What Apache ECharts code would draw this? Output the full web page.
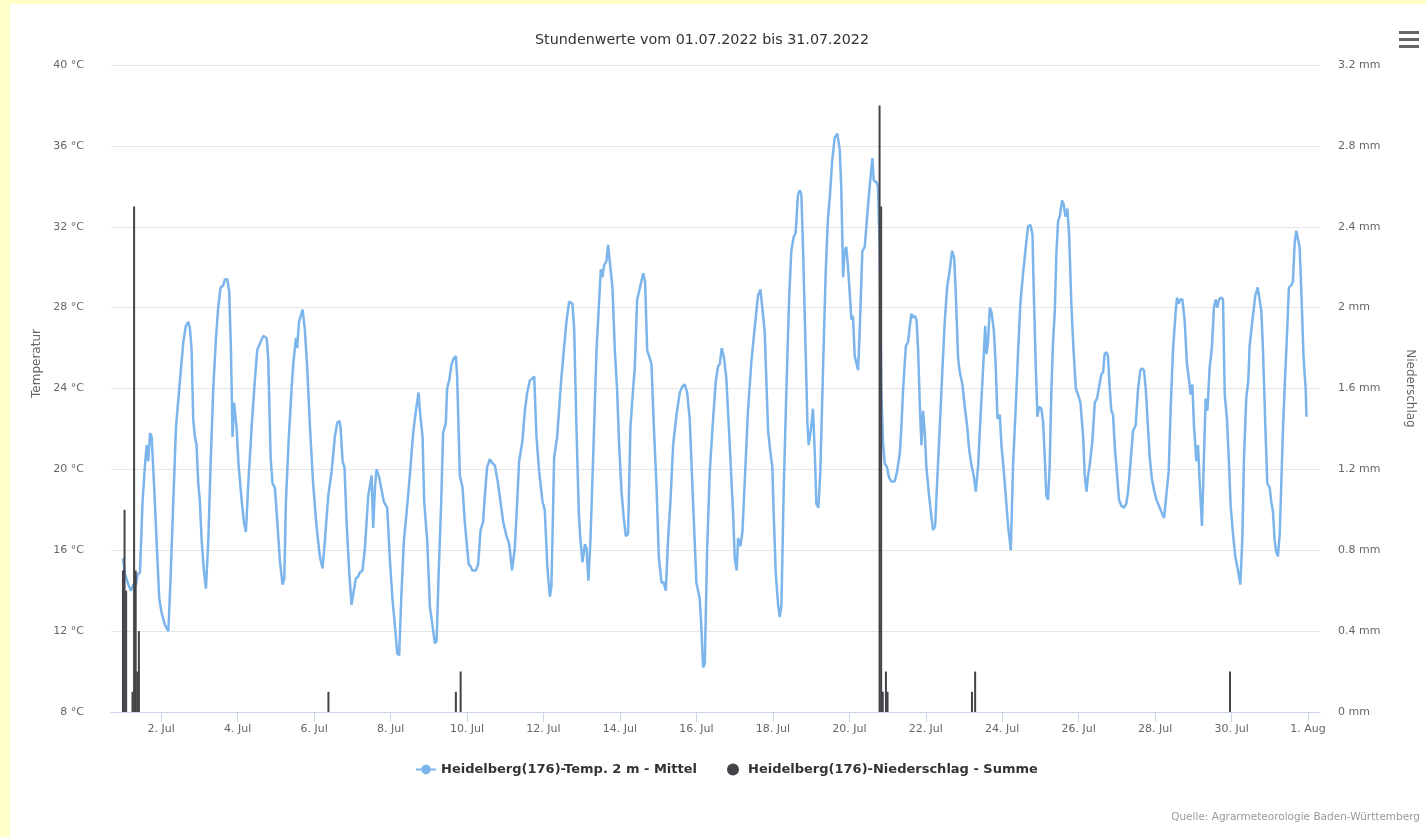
<!DOCTYPE html>
<html>
<head>
<meta charset="utf-8">
<title>Heidelberg Juli 2022</title>
<script src="https://cdn.jsdelivr.net/npm/echarts@6/dist/echarts.min.js"></script>
<style>
html, body { margin: 0; padding: 0; background: #fff; }
#chart { width: 1426px; height: 837px; }
</style>
</head>
<body>
<div id="chart"></div>
<script>
// x = Stunden seit 01.07.2022 00:00
var temperature = [
  [0,15.6],[1.3,14.8],[3.4,14.3],[5.0,14.0],[6.5,14.3],[8.2,14.3],[9.2,14.8],[10.7,14.9],[12.3,18.4],[13.8,20.2],
  [14.9,21.2],[15.9,20.4],[17.0,21.8],[18.0,21.6],[19.5,19.3],[21.1,16.5],[22.8,13.6],[24.3,12.9],[26.4,12.3],[28.5,12.0],
  [29.9,14.6],[31.6,18.4],[33.3,22.1],[35.8,24.4],[37.9,26.3],[39.5,27.1],[41.0,27.3],[42.0,27.0],[43.1,25.9],[44.1,22.5],
  [45.2,21.6],[46.2,21.2],[47.3,19.3],[48.3,18.4],[49.4,16.5],[50.8,15.0],[52.1,14.1],[53.6,16.5],[55.0,20.2],[56.7,24.0],
  [58.4,26.5],[59.8,28.0],[61.3,29.0],[63.0,29.1],[64.0,29.4],[65.5,29.4],[66.7,28.8],[67.8,25.9],[68.8,21.6],[69.7,23.3],
  [70.7,23.3],[71.3,22.1],[72.6,20.2],[74.5,18.5],[75.9,17.4],[77.2,16.9],[78.7,19.3],[80.8,22.1],[82.8,24.4],[84.3,25.9],
  [86.4,26.3],[88.1,26.6],[90.2,26.5],[91.2,25.5],[92.7,20.6],[93.9,19.3],[95.4,19.1],[96.9,17.4],[98.5,15.5],[100.2,14.3],
  [101.3,14.6],[102.3,18.4],[104.0,21.4],[105.9,24.0],[106.9,25.2],[108.6,26.5],[109.4,26.0],[110.5,27.3],[112.8,27.9],[114.2,26.9],
  [115.7,25.0],[117.4,22.1],[119.4,19.3],[121.5,17.2],[123.6,15.7],[125.3,15.1],[126.8,16.5],[128.9,18.7],[131.0,19.9],[133.0,21.6],
  [134.5,22.3],[135.8,22.4],[136.6,22.1],[137.9,20.4],[139.1,20.1],[140.4,17.4],[142.0,15.0],[143.5,13.3],[144.5,13.8],[146.2,14.6],
  [147.7,14.7],[148.7,14.9],[150.4,15.0],[151.9,16.1],[154.0,18.7],[156.1,19.7],[157.1,17.1],[158.2,19.1],[159.2,20.0],[160.9,19.6],
  [162.3,19.0],[163.8,18.4],[165.9,18.1],[167.6,15.5],[169.2,13.6],[170.7,12.3],[172.2,10.9],[173.4,10.8],[174.7,13.6],[176.4,16.5],
  [178.0,17.8],[180.1,19.7],[182.2,21.8],[183.9,22.9],[185.6,23.8],[186.4,22.9],[188.1,21.6],[189.1,18.4],[191.0,16.5],[192.7,13.2],
  [194.3,12.3],[195.8,11.4],[196.9,11.5],[198.1,14.6],[199.8,18.4],[201.0,21.8],[202.7,22.3],[203.5,24.0],[204.8,24.4],[206.3,25.2],
  [207.7,25.5],[209.0,25.6],[209.8,24.6],[211.5,19.7],[213.2,19.1],[214.6,17.4],[216.1,16.1],[217.1,15.3],[218.2,15.2],[219.4,15.0],
  [221.5,15.0],[223.0,15.3],[224.5,17.0],[226.1,17.4],[227.2,18.7],[228.6,20.1],[230.3,20.5],[232.0,20.3],[233.5,20.2],[235.5,19.3],
  [238.7,17.4],[240.8,16.7],[242.5,16.3],[244.3,15.0],[246.0,16.1],[247.5,18.4],[248.7,20.4],[250.8,21.4],[252.3,22.9],[253.8,23.8],
  [255.4,24.4],[257.1,24.5],[258.2,24.6],[259.6,21.6],[261.3,19.9],[263.4,18.4],[264.8,18.0],[266.5,15.1],[268.0,13.7],[269.0,14.2],
  [270.7,20.6],[272.6,21.6],[274.3,23.5],[275.3,24.6],[276.8,25.9],[278.4,27.3],[280.1,28.3],[282.2,28.2],[283.3,26.9],[284.7,22.1],
  [286.2,17.8],[287.2,16.5],[288.5,15.4],[290.0,16.3],[291.0,16.1],[292.2,14.5],[293.5,16.5],[295.2,20.6],[297.3,25.9],[299.0,28.4],
  [300.0,29.9],[301.0,29.5],[302.1,30.1],[303.5,30.3],[304.6,31.1],[305.6,30.3],[307.3,29.0],[308.8,25.9],[310.2,24.0],[311.5,21.2],
  [313.0,18.9],[314.4,17.6],[315.7,16.7],[317.1,16.8],[318.6,22.1],[320.3,24.0],[321.3,25.0],[322.8,28.4],[324.0,28.4],[325.5,29.3],
  [326.6,29.7],[327.8,29.3],[329.1,25.9],[330.3,25.6],[331.8,25.2],[333.3,22.1],[334.9,19.3],[336.4,15.7],[338.1,14.4],[339.5,14.4],
  [340.8,14.0],[342.2,16.5],[343.7,18.4],[345.4,21.2],[347.5,22.7],[349.6,23.8],[351.2,24.1],[352.7,24.2],[354.2,23.8],[355.8,22.5],
  [357.9,18.4],[360.0,14.4],[362.1,13.6],[363.2,12.1],[364.2,10.2],[365.3,10.4],[366.7,15.9],[368.4,19.9],[370.5,22.5],[372.1,24.3],
  [373.6,25.1],[374.7,25.2],[375.9,26.0],[377.2,25.6],[378.8,24.5],[380.5,21.9],[382.0,19.5],[383.0,17.9],[384.1,15.6],[385.3,15.0],
  [386.2,16.6],[387.6,16.2],[388.9,16.9],[390.3,19.3],[392.4,22.9],[394.5,25.3],[396.6,27.0],[398.7,28.6],[400.2,28.9],[401.4,28.9],
  [402.9,26.8],[405.0,21.9],[406.4,20.9],[407.7,20.1],[408.5,17.9],[409.8,14.9],[411.3,13.3],[412.3,12.7],[413.4,13.3],[414.8,18.9],
  [416.5,23.9],[418.2,28.4],[419.6,30.8],[421.1,31.5],[422.3,31.7],[423.8,33.6],[424.9,33.8],[425.9,33.6],[427.0,30.8],[428.6,25.8],
  [429.7,22.3],[430.5,21.2],[431.8,21.9],[433.2,23.0],[434.3,20.9],[435.3,18.3],[436.6,18.1],[437.8,19.9],[439.5,24.9],[441.2,29.8],
  [442.6,32.4],[443.7,33.4],[445.2,35.2],[446.8,36.4],[448.5,36.6],[450.0,35.8],[451.0,33.8],[452.1,29.5],[453.1,30.8],[454.1,31.0],
  [455.2,30.0],[456.2,28.8],[457.3,27.4],[458.3,27.6],[459.4,25.6],[460.4,25.6],[461.5,24.9],[462.5,26.8],[464.2,30.8],[465.7,31.0],
  [467.1,32.4],[468.8,34.0],[470.5,35.4],[471.3,34.3],[473.0,34.2],[474.0,34.0],[475.1,30.8],[476.1,23.9],[477.2,21.3],[478.2,20.3],
  [479.7,20.1],[480.9,19.6],[482.4,19.4],[484.5,19.4],[486.0,19.9],[487.7,20.8],[488.7,22.1],[489.8,24.0],[491.5,26.1],[492.9,26.3],
  [494.0,27.1],[495.0,27.7],[496.1,27.5],[497.1,27.6],[498.2,27.4],[499.2,25.9],[500.3,23.1],[501.3,21.2],[502.3,22.9],[503.4,21.8],
  [504.4,20.1],[506.1,18.7],[507.6,17.6],[508.6,17.0],[509.9,17.2],[511.1,19.3],[512.8,22.1],[514.5,25.0],[515.9,27.3],[517.4,29.0],
  [519.1,29.9],[520.5,30.8],[521.8,30.5],[522.8,28.8],[524.3,25.5],[525.4,24.8],[527.0,24.2],[528.5,23.1],[530.0,22.1],[531.2,21.0],
  [532.7,20.2],[534.1,19.7],[535.4,18.9],[536.9,20.2],[538.3,22.5],[540.0,25.0],[541.3,27.1],[542.1,25.7],[543.1,26.3],[544.2,28.0],
  [545.2,27.8],[546.7,26.9],[547.9,25.2],[549.0,22.5],[550.5,22.7],[551.5,21.2],[553.0,19.9],[554.2,18.7],[555.7,17.2],[557.4,16.0],
  [558.8,20.2],[560.5,23.1],[562.0,25.9],[563.4,28.2],[565.1,29.7],[566.8,31.0],[568.2,32.0],[569.7,32.1],[571.0,31.6],[571.8,28.8],
  [573.1,25.0],[574.1,22.6],[575.1,23.1],[576.6,23.0],[577.7,22.3],[578.7,20.6],[579.7,18.7],[580.8,18.5],[581.8,20.2],[582.9,24.0],
  [583.9,26.3],[585.0,27.8],[586.0,30.7],[587.1,32.3],[588.1,32.5],[589.6,33.3],[590.6,33.1],[591.7,32.5],[592.9,32.9],[594.0,31.6],
  [595.4,28.2],[596.5,26.3],[598.2,24.0],[599.6,23.7],[601.1,23.3],[602.8,21.6],[603.8,19.7],[604.9,18.9],[605.9,19.7],[606.9,20.2],
  [608.6,21.4],[610.1,23.3],[611.5,23.5],[614.2,24.7],[615.3,24.8],[616.3,25.7],[617.4,25.8],[618.4,25.6],[619.5,24.0],[620.5,22.9],
  [621.6,22.7],[622.6,21.2],[624.1,19.7],[625.3,18.5],[626.8,18.2],[628.3,18.1],[629.9,18.3],[631.0,18.9],[632.4,20.2],[634.1,21.9],
  [635.8,22.2],[637.3,24.0],[638.7,24.9],[639.8,25.0],[641.0,24.9],[642.1,24.0],[643.5,22.1],[644.6,20.6],[646.0,19.5],[647.3,19.0],
  [648.8,18.5],[650.4,18.2],[651.9,17.9],[653.6,17.6],[655.0,18.7],[656.5,19.9],[657.8,23.1],[659.2,25.9],[660.9,27.8],[661.7,28.5],
  [662.8,28.2],[663.8,28.4],[665.1,28.4],[666.5,27.4],[668.0,25.2],[669.3,24.4],[670.3,23.7],[671.4,24.2],[672.4,22.1],[673.9,20.4],
  [674.9,21.2],[676.0,19.3],[677.4,17.2],[678.5,20.2],[679.7,23.5],[680.8,22.9],[682.2,25.0],[683.7,26.1],[684.9,28.0],[686.0,28.4],
  [687.0,28.0],[688.1,28.4],[689.6,28.5],[690.6,28.4],[691.7,23.7],[693.1,22.5],[694.4,20.2],[695.4,18.2],[696.9,16.8],[698.3,15.7],
  [700.0,15.0],[701.5,14.3],[702.7,16.5],[703.8,20.6],[705.2,23.5],[706.5,24.4],[707.3,26.1],[708.4,26.1],[709.4,27.6],[710.9,28.6],
  [712.4,29.0],[713.6,28.4],[714.7,27.8],[715.7,25.9],[717.2,22.1],[718.4,19.3],[719.9,19.1],[720.9,18.4],[722.0,17.9],[723.0,16.5],
  [724.1,15.9],[725.1,15.7],[726.2,16.8],[727.2,19.3],[728.3,22.1],[729.5,24.4],[730.8,26.7],[732.0,29.0],[733.5,29.1],[734.5,29.3],
  [735.6,31.2],[736.6,31.8],[737.7,31.8],[738.7,31.0],[739.8,28.8],[741.2,25.5],[742.5,24.0],[743,22.6]
];

// Niederschlag (mm) je Stunde, nur Stunden mit Regen
var rainHours  = [0, 1, 2, 6, 7, 8, 9, 10, 129, 209, 212, 475, 476, 477, 479, 480, 533, 535, 695];
var rainValues = [0.7, 1.0, 0.6, 0.1, 2.5, 0.7, 0.2, 0.4, 0.1, 0.1, 0.2, 3.0, 2.5, 0.1, 0.2, 0.1, 0.1, 0.2, 0.2];

var tickHours  = [24, 72, 120, 168, 216, 264, 312, 360, 408, 456, 504, 552, 600, 648, 696, 744];
var tickLabels = ['2. Jul', '4. Jul', '6. Jul', '8. Jul', '10. Jul', '12. Jul', '14. Jul', '16. Jul',
                  '18. Jul', '20. Jul', '22. Jul', '24. Jul', '26. Jul', '28. Jul', '30. Jul', '1. Aug'];

var tempName = 'Heidelberg(176)-Temp. 2 m - Mittel';
var rainName = 'Heidelberg(176)-Niederschlag - Summe';

var rainData = rainHours.map(function (h, i) { return [h, rainValues[i]]; });

var font = '"DejaVu Sans", Verdana, sans-serif';
var chart = echarts.init(document.getElementById('chart'));

chart.setOption({
  backgroundColor: '#ffffff',
  animation: false,
  textStyle: { fontFamily: font },
  title: {
    text: 'Stundenwerte vom 01.07.2022 bis 31.07.2022',
    left: 530,
    top: 28,
    textStyle: { fontSize: 14.3, fontWeight: 'normal', color: '#333333', fontFamily: font }
  },
  grid: { left: 111, right: 106, top: 65, bottom: 125 },
  legend: {
    bottom: 56,
    left: 410,
    itemGap: 30,
    itemWidth: 20,
    itemHeight: 12,
    textStyle: { fontSize: 13, fontWeight: 'bold', color: '#333333', fontFamily: font },
    data: [
      { name: tempName },
      { name: rainName, icon: 'circle' }
    ]
  },
  xAxis: {
    type: 'value',
    min: -7.5,
    max: 751.5,
    axisLine: { lineStyle: { color: '#ccd6eb' } },
    axisTick: { customValues: tickHours, length: 10, lineStyle: { color: '#ccd6eb' } },
    axisLabel: {
      customValues: tickHours,
      margin: 12,
      fontSize: 11,
      color: '#666666',
      fontFamily: font,
      formatter: function (v) {
        var i = tickHours.indexOf(v);
        return i >= 0 ? tickLabels[i] : '';
      }
    },
    splitLine: { show: false }
  },
  yAxis: [
    {
      type: 'value',
      min: 8,
      max: 40,
      interval: 4,
      name: 'Temperatur',
      nameLocation: 'middle',
      nameRotate: 90,
      nameGap: 66,
      nameTextStyle: { fontSize: 12, color: '#666666', fontFamily: font, padding: [0, 0, 0, 50] },
      axisLine: { show: false },
      axisTick: { show: false },
      axisLabel: { margin: 27, fontSize: 11, color: '#666666', formatter: '{value} °C' },
      splitLine: { lineStyle: { color: '#e6e6e6' } }
    },
    {
      type: 'value',
      min: 0,
      max: 3.2,
      interval: 0.4,
      name: 'Niederschlag',
      nameLocation: 'middle',
      nameRotate: -90,
      nameGap: 84,
      nameTextStyle: { fontSize: 12, color: '#666666', fontFamily: font },
      axisLine: { show: false },
      axisTick: { show: false },
      axisLabel: {
        margin: 18,
        fontSize: 11,
        color: '#666666',
        formatter: function (v) { return Number(v.toFixed(1)) + ' mm'; }
      },
      splitLine: { show: false }
    }
  ],
  series: [
    {
      name: tempName,
      type: 'line',
      data: temperature,
      yAxisIndex: 0,
      symbol: 'circle',
      symbolSize: 8,
      showSymbol: false,
      lineStyle: { width: 2.5, color: '#7cb5ec' },
      itemStyle: { color: '#7cb5ec' },
      z: 2
    },
    {
      name: rainName,
      type: 'bar',
      data: rainData,
      yAxisIndex: 1,
      barWidth: 2,
      itemStyle: { color: '#434348' },
      z: 3
    }
  ],
  graphic: [
    { type: 'rect', shape: { x: 0, y: 0, width: 10, height: 837 }, style: { fill: '#ffffc8' } },
    { type: 'rect', shape: { x: 0, y: 0, width: 1426, height: 4 }, style: { fill: '#ffffc8' } },
    { type: 'rect', shape: { x: 1399, y: 31, width: 20, height: 3 }, style: { fill: '#666666' } },
    { type: 'rect', shape: { x: 1399, y: 38, width: 20, height: 3 }, style: { fill: '#666666' } },
    { type: 'rect', shape: { x: 1399, y: 45, width: 20, height: 3 }, style: { fill: '#666666' } },
    {
      type: 'text',
      right: 6,
      bottom: 14,
      style: {
        text: 'Quelle: Agrarmeteorologie Baden-Württemberg',
        fill: '#999999',
        fontSize: 10.5,
        fontFamily: font
      }
    }
  ]
});
</script>
</body>
</html>
